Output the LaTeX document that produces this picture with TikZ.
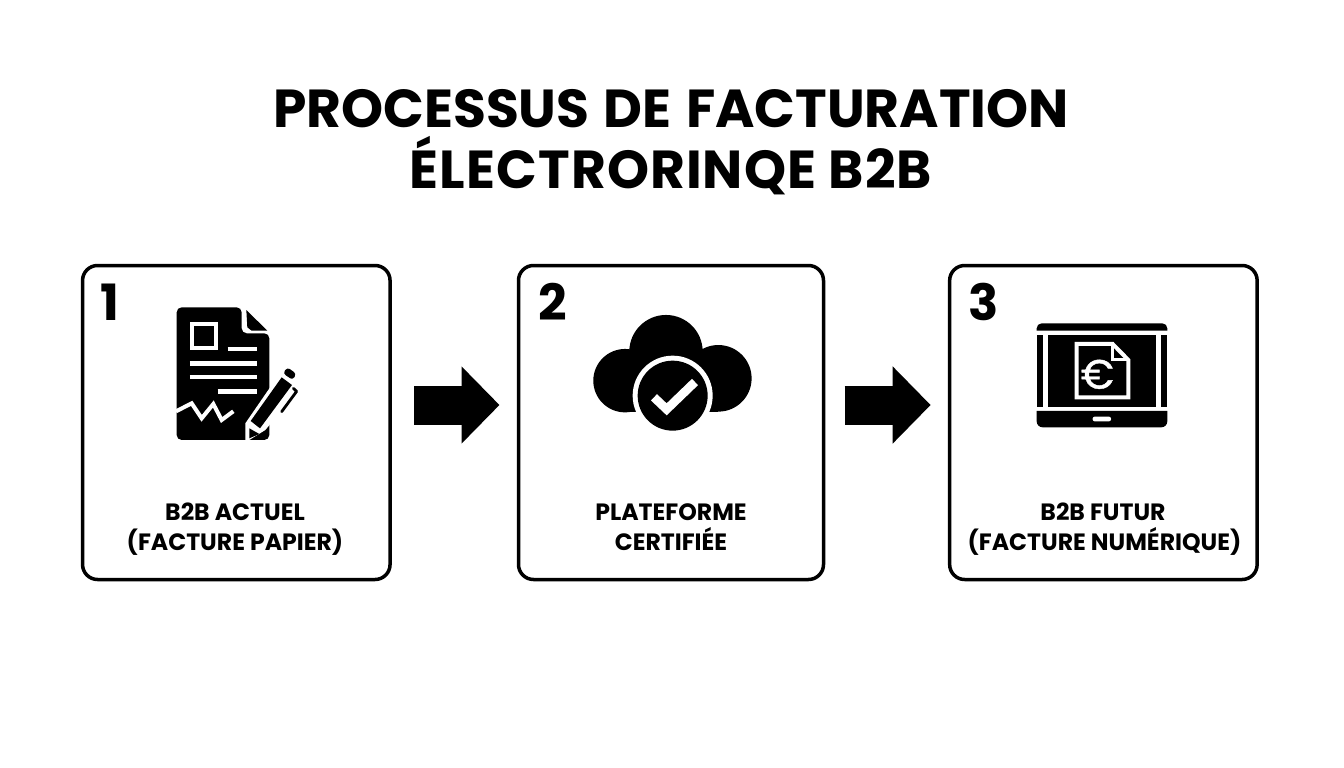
\documentclass[tikz,border=0pt]{standalone}
\usepackage{fontspec}
\setmainfont{Poppins}[BoldFont={Poppins Bold}]
\usetikzlibrary{arrows.meta}
\tikzset{
 panel/.style={draw=black,line width=3.5pt,rounded corners=15pt,fill=white,minimum width=307.5pt,minimum height=314pt,inner sep=0pt,outer sep=0pt},
 titletext/.style={font=\fontsize{53.5}{53.5}\selectfont\bfseries,anchor=base,inner sep=0pt,text=black},
 numtext/.style={font=\fontsize{50}{50}\selectfont\bfseries,anchor=base,inner sep=0pt},
 labeltext/.style={font=\fontsize{23.6}{23.6}\selectfont\bfseries,anchor=base,inner sep=0pt},
 blockarrow/.style={line width=39pt,-{Triangle[length=38pt,width=75pt]},black},
}
\begin{document}
\begin{tikzpicture}[x=1pt,y=-1pt]
\useasboundingbox (0,0) rectangle (1344,768);
\fill[white] (0,0) rectangle (1344,768);
\node[titletext] (t1) at (671,127) {PROCESSUS\hspace{3pt} DE\hspace{3pt} FACTURATION};
\node[titletext] (t2) at (671,188) {\addfontfeature{LetterSpace=2}ÉLECTRORINQE B2B};
\node[panel] (box1) at (236.3,422.5) {};
\node[panel,minimum width=305pt] (box2) at (671,422.5) {};
\node[panel] (box3) at (1103.4,422.5) {};
\coordinate (ya) at (0,405);
\draw[blockarrow,shorten <=24pt,shorten >=19pt] (box1.east |- ya) -- (box2.west |- ya);
\draw[blockarrow,shorten <=21pt,shorten >=19pt] (box2.east |- ya) -- (box3.west |- ya);
\node[numtext] (n1) at (110,320) {1};
\node[numtext] (n2) at (552.5,320.5) {2};
\node[numtext] (n3) at (984,320.5) {3};
\node[labeltext] (l1a) at (235,520) {B2B ACTUEL};
\node[labeltext] (l1b) at (235,550) {(FACTURE PAPIER)};
\node[labeltext] (l2a) at (671,520) {PLATEFORME};
\node[labeltext] (l2b) at (671,550) {CERTIFIÉE};
\node[labeltext] (l3a) at (1103,520) {B2B FUTUR};
\node[labeltext] (l3b) at (1104.5,550) {(FACTURE NUMÉRIQUE)};
% icon 1
\begin{scope}[shift={(150,290)},x=0.3333pt,y=-0.3333pt]
\fill[black,rounded corners=5pt] (80,52) -- (275,52) -- (275,130) -- (358,130) -- (358,450) -- (80,450) -- cycle;
\draw[white,line width=3.5pt] (282,48) -- (282,108) arc[start angle=180,end angle=270,radius=20] -- (362,128);
\fill[black] (289,60) -- (352,122) -- (305,122) -- (292,112) -- cycle;
\draw[white,line width=4pt] (126,101) rectangle (199,174);
\foreach \a/\b/\c in {233/320/177,120/320/220,120/320/261,203/320/305}
  \draw[white,line width=4.6pt] (\a,\c) -- (\b,\c);
\draw[white,line width=4pt,miter limit=10] (78,364) -- (125,340) -- (155,385) -- (190,342) -- (215,390) -- (250,364);
\end{scope}
% pencil
\begin{scope}[shift={(230,360)},x=0.3333pt,y=-0.3333pt]
\fill[white] (46,190) -- (152,36) -- (215,80) -- (106,210) -- (50,245) -- (46,245) -- cycle;
\fill[black] (155,52) -- (186,75) -- (90,205) -- (62,183) -- cycle;
\fill[black,rounded corners=3pt] (172,22) -- (199,41) -- (188,60) -- (159,40) -- cycle;
\draw[black,line width=2.8pt,line cap=round,line join=round] (190,85) -- (200,94) -- (155,155);
\fill[black] (58,205) -- (88,222) -- (58,235) -- cycle;
\end{scope}
% icon 2
\begin{scope}[shift={(570,295)},x=0.3333pt,y=-0.3333pt]
\fill[black] (288,170) circle[radius=36.7pt];
\fill[black] (165,257) circle[radius=31.7pt];
\fill[black] (445,250) circle[radius=33.3pt];
\fill[black] (165,200) rectangle (445,351);
\fill[white] (308,302) circle[radius=40pt];
\fill[black] (308,302) circle[radius=35pt];
\draw[white,line width=8.7pt,miter limit=10] (252,307) -- (290,343) -- (375,261);
\end{scope}
% icon 3
\begin{scope}[shift={(1020,310)},x=0.3333pt,y=-0.3333pt]
\fill[black] (50,62) [rounded corners=5pt] -- (50,40) -- (442,40) [sharp corners] -- (442,62) -- cycle;
\fill[black] (50,303) [rounded corners=6pt] -- (50,352) -- (442,352) [sharp corners] -- (442,303) -- cycle;
\fill[black] (50,75) rectangle (70,290);
\fill[black] (85,75) rectangle (407,290);
\fill[black] (422,75) rectangle (442,290);
\fill[white,rounded corners=2pt] (218,320) rectangle (273,334);
\draw[white,line width=4pt] (170,102) -- (278,102) -- (325,150) -- (325,262) -- (170,262) -- cycle;
\draw[white,line width=3pt] (278,102) -- (278,148) -- (325,148);
\node[text=white,font=\fontsize{41}{41}\selectfont\addfontfeature{FakeBold=1},inner sep=0pt] (euro) at (232,193) {€};
\end{scope}
\end{tikzpicture}
\end{document}
